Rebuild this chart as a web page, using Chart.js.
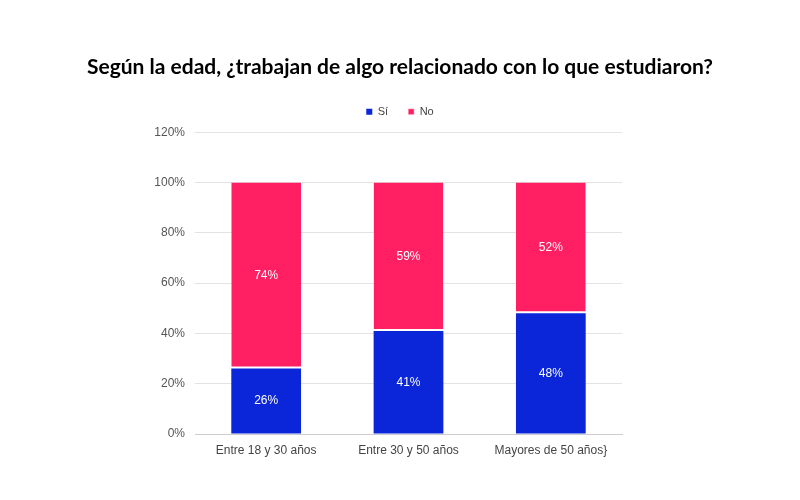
<!DOCTYPE html>
<html><head><meta charset="utf-8">
<script src="https://cdn.jsdelivr.net/npm/chart.js@4"></script>
<style>html,body{margin:0;padding:0;background:#fff}#wrap{width:800px;height:500px}</style>
</head><body><div id="wrap"><canvas id="c" width="800" height="500"></canvas></div>
<script>
const categories = ["Entre 18 y 30 años", "Entre 30 y 50 años", "Mayores de 50 años}"];
const siValues = [26, 41, 48];
const noValues = [74, 59, 52];
const yTicks = [0, 20, 40, 60, 80, 100, 120];

const labelPlugin = {
  id: 'valLabels',
  afterDatasetsDraw(chart) {
    const ctx = chart.ctx;
    ctx.save();
    ctx.fillStyle = '#fff';
    ctx.font = '12px "Liberation Sans", Arial, sans-serif';
    ctx.textAlign = 'center';
    ctx.textBaseline = 'middle';
    chart.data.datasets.forEach((ds, i) => {
      chart.getDatasetMeta(i).data.forEach((bar, j) => {
        const p = bar.getProps(['x', 'y', 'base'], true);
        ctx.fillText(ds.data[j] + '%', p.x, (p.y + p.base) / 2);
      });
    });
    ctx.restore();
  }
};

new Chart(document.getElementById('c'), {
  type: 'bar',
  data: {
    labels: categories,
    datasets: [
      { label: 'Sí', data: siValues, backgroundColor: '#0a26d8', borderWidth: 0 },
      { label: 'No', data: noValues, backgroundColor: '#ff1f62', borderColor: '#ffffff',
        borderWidth: { top: 0, left: 0, right: 0, bottom: 2 }, borderSkipped: false }
    ]
  },
  options: {
    responsive: false,
    animation: false,
    layout: { padding: { left: 0, right: 0, top: 0, bottom: 36 } },
    datasets: { bar: { categoryPercentage: 1.0, barPercentage: 0.49 } },
    plugins: {
      title: {
        display: true,
        text: 'Según la edad, ¿trabajan de algo relacionado con lo que estudiaron?',
        color: '#000',
        font: { family: 'Lato, "Open Sans", sans-serif', size: 21, weight: 'bold' },
        padding: { top: 55, bottom: 6 },
        fullSize: true
      },
      legend: {
        position: 'top',
        labels: {
          usePointStyle: true, pointStyle: 'rect', boxWidth: 6, boxHeight: 6,
          color: '#444', font: { family: '"Liberation Sans", Arial, sans-serif', size: 11 },
          padding: 20
        }
      },
      tooltip: { enabled: false }
    },
    scales: {
      x: {
        stacked: true,
        grid: { display: false },
        border: { color: '#cccccc' },
        ticks: { color: '#444', font: { family: '"Liberation Sans", Arial, sans-serif', size: 12 }, padding: 1 },
        afterFit(s) { s.height = 30; }
      },
      xT: {
        type: 'category',
        position: 'top',
        display: true,
        grid: { display: false, drawTicks: false },
        border: { display: false },
        ticks: { display: false },
        afterFit(s) { s.height = 5; }
      },
      y: {
        stacked: true,
        min: 0, max: 120,
        afterBuildTicks(s) { s.ticks = yTicks.map(v => ({ value: v })); },
        grid: { color: '#e3e3e3', drawTicks: false },
        border: { display: false },
        ticks: { color: '#555', font: { family: '"Liberation Sans", Arial, sans-serif', size: 12 }, padding: 10,
          callback: v => v + '%' },
        afterFit(s) { s.width = 195; }
      },
      yR: {
        position: 'right',
        display: true,
        grid: { display: false, drawTicks: false },
        border: { display: false },
        ticks: { display: false },
        afterFit(s) { s.width = 178; }
      }
    }
  },
  plugins: [labelPlugin]
});
</script></body></html>
